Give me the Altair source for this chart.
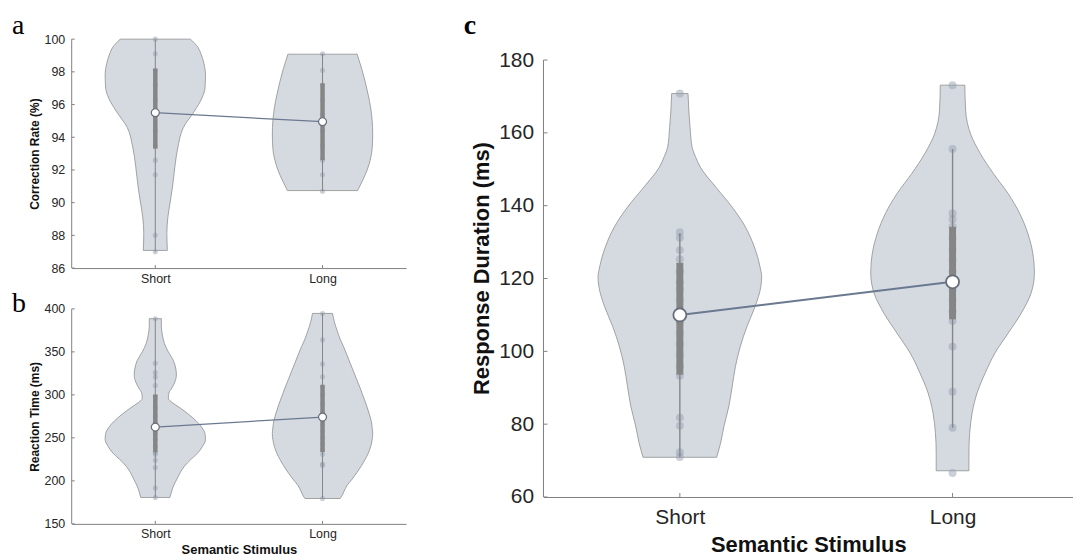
import altair as alt
import pandas as pd

# ---------------- data ----------------
CATS = ["Short", "Long"]
CAT_POS = [1, 2]
LETTERS = ["a", "b", "c"]

# Panel a : Correction Rate (%)
A_TICKS = [86, 88, 90, 92, 94, 96, 98, 100]
A_SHORT_Y = [87.08, 88.1, 89.1, 90.1, 90.9, 92.2, 93.4, 94.6, 95.6, 96.4, 97.0, 97.8, 98.5, 99.1, 99.5, 100.0]
A_SHORT_W = [0.24, 0.23, 0.25, 0.30, 0.34, 0.39, 0.45, 0.56, 0.78, 0.93, 0.99, 1.00, 0.97, 0.91, 0.85, 0.70]
A_LONG_Y = [90.74, 91.3, 92.0, 92.6, 93.3, 94.2, 95.0, 95.8, 96.6, 97.4, 98.2, 99.08]
A_LONG_W = [0.70, 0.79, 0.89, 0.95, 0.99, 1.00, 0.99, 0.96, 0.91, 0.85, 0.78, 0.69]
A_SHORT_PTS = [100.0, 99.1, 98.1, 97.2, 96.3, 95.4, 94.4, 93.5, 92.6, 91.7, 88.0, 87.0]
A_LONG_PTS = [99.1, 98.1, 97.2, 96.3, 95.4, 94.4, 93.5, 92.6, 91.7, 90.7]
A_Q1 = [93.3, 92.6]
A_Q3 = [98.2, 97.3]
A_MED = [95.5, 94.95]
A_LO = [87.0, 90.7]
A_HI = [100.0, 99.1]

# Panel b : Reaction Time (ms)
B_TICKS = [150, 200, 250, 300, 350, 400]
B_SHORT_Y = [180.7, 187, 195, 202, 210, 217, 225, 232, 240, 248, 255, 262, 270, 278, 285,
             291, 296, 302, 308, 315, 323, 330, 340, 350, 360, 370, 380, 388.6]
B_SHORT_W = [0.29, 0.32, 0.37, 0.43, 0.50, 0.58, 0.71, 0.84, 0.94, 1.00, 0.99, 0.93, 0.81, 0.65, 0.49,
             0.34, 0.26, 0.27, 0.33, 0.39, 0.42, 0.41, 0.36, 0.26, 0.18, 0.14, 0.12, 0.12]
B_LONG_Y = [179.5, 183, 188, 194.7, 202, 210, 218, 225, 232, 240, 248, 255, 262, 270, 280,
            289, 300, 308, 318, 327, 337, 346, 356, 365, 375, 384, 394.7]
B_LONG_W = [0.35, 0.39, 0.43, 0.49, 0.59, 0.69, 0.78, 0.85, 0.91, 0.96, 0.99, 1.00, 0.99, 0.97, 0.92,
            0.87, 0.80, 0.75, 0.68, 0.62, 0.55, 0.49, 0.42, 0.35, 0.29, 0.24, 0.20]
B_SHORT_PTS = [388.6, 336.7, 326, 320.8, 311, 298, 285, 275, 268, 262, 255, 248, 240, 233,
               231, 224, 215.5, 191.7, 180.7]
B_LONG_PTS = [394.7, 364, 336, 321, 310, 300, 290, 280, 272, 265, 258, 250, 243, 236, 231,
              219.6, 218, 179.5]
B_Q1 = [233.3, 233.6]
B_Q3 = [300.4, 311.4]
B_MED = [262.5, 274.2]
B_LO = [180.7, 179.5]
B_HI = [388.6, 394.7]

# Panel c : Response Duration (ms)
C_TICKS = [60, 80, 100, 120, 140, 160, 180]
C_SHORT_Y = [70.9, 75.0, 79.5, 85.0, 90.4, 95.9, 101.4, 106.8, 112.3, 117.8, 120.5, 123.2, 128.7,
             134.2, 139.6, 145.1, 150.6, 153.5, 156.0, 161.5, 166.0, 170.8]
C_SHORT_W = [0.45, 0.50, 0.54, 0.60, 0.64, 0.68, 0.74, 0.82, 0.92, 0.99, 1.00, 0.98, 0.91,
             0.80, 0.64, 0.44, 0.25, 0.19, 0.15, 0.125, 0.11, 0.10]
C_LONG_Y = [67.2, 72.2, 77.7, 83.2, 88.6, 94.1, 99.6, 105.0, 110.5, 116.0, 121.5, 127.0, 132.4,
            137.9, 143.3, 148.8, 154.3, 159.7, 166.1, 173.1]
C_LONG_W = [0.20, 0.20, 0.21, 0.24, 0.30, 0.40, 0.52, 0.68, 0.84, 0.96, 1.00, 0.98, 0.92,
            0.82, 0.68, 0.50, 0.34, 0.22, 0.16, 0.15]
C_SHORT_PTS = [170.8, 132.7, 131.2, 127.8, 125.3, 122, 119, 117, 114, 111, 108, 105, 102, 99, 96,
               93.3, 81.8, 79.6, 72.3, 71.0]
C_LONG_PTS = [173.1, 155.6, 137.9, 136.3, 134.2, 131, 128, 125, 122, 120, 117, 114, 111, 108.3,
              101.3, 88.9, 79.0, 66.6]
C_Q1 = [93.6, 108.8]
C_Q3 = [124.3, 134.2]
C_MED = [110.0, 119.1]
C_LO = [70.9, 79.0]
C_HI = [132.4, 155.6]

VIOLIN_HALF_WIDTH = 0.3

# ---------------- styles ----------------
FILL = "#d5dae1"
EDGE = "#8f8f8f"
AXIS = "#808080"
TEXT = "#262626"
PT = "#98a1b1"
BOXC = "#858585"
LINEC = "#6a7990"
SANS = "Liberation Sans"
SERIF = "Liberation Serif"


def panel(letter, lx, ly, lweight, lsize, sy, sw, ly_, lw_, spts, lpts, q1, q3, med, lo, hi,
          ticks, ytop, xmax, W, H, ytitle, xtitle, s):
    prof = pd.DataFrame(
        [{"pos": CAT_POS[0], "y": y, "w": w} for y, w in zip(sy, sw)]
        + [{"pos": CAT_POS[1], "y": y, "w": w} for y, w in zip(ly_, lw_)]
    )
    pts = pd.DataFrame(
        [{"pos": CAT_POS[0], "y": v} for v in spts] + [{"pos": CAT_POS[1], "y": v} for v in lpts]
    )
    bx = pd.DataFrame({"pos": CAT_POS, "q1": q1, "q3": q3, "med": med, "lo": lo, "hi": hi})

    xs = alt.Scale(domain=[0.5, xmax], nice=False, zero=False)
    ys = alt.Scale(domain=[ticks[0], ytop], nice=False, zero=False)

    xaxis = alt.Axis(
        values=CAT_POS,
        labelExpr=f"datum.value == {CAT_POS[0]} ? '{CATS[0]}' : '{CATS[1]}'",
        title=xtitle,
        ticks=False, tickSize=0, grid=False,
        domainColor=AXIS, domainWidth=1,
        labelFont=SANS, labelFontSize=s["lab"], labelColor=TEXT, labelPadding=s["xlp"],
        labelAngle=0,
        titleFont=SANS, titleFontSize=s["xt"], titleFontWeight="bold", titleColor="#111111",
        titlePadding=s["xtp"],
    )
    yaxis = alt.Axis(
        values=ticks, title=ytitle,
        ticks=False, tickSize=0, grid=False, domain=False,
        labelFont=SANS, labelFontSize=s["lab"], labelColor=TEXT, labelPadding=s["ylp"],
        titleFont=SANS, titleFontSize=s["yt"], titleFontWeight="bold", titleColor="#111111",
        titlePadding=s["ytp"],
    )

    def X(f):
        return alt.X(f, scale=xs, axis=xaxis)

    def Y(f):
        return alt.Y(f, scale=ys, axis=yaxis)

    violin = (
        alt.Chart(prof)
        .transform_calculate(
            left=f"datum.pos - {VIOLIN_HALF_WIDTH} * datum.w",
            right=f"datum.pos + {VIOLIN_HALF_WIDTH} * datum.w",
        )
        .mark_area(orient="horizontal", interpolate="monotone", fill=FILL, stroke=EDGE,
                   strokeWidth=0.8, fillOpacity=1)
        .encode(y=Y("y:Q"), x=X("left:Q"), x2="right:Q", detail="pos:N")
    )
    dots = (
        alt.Chart(pts)
        .mark_circle(size=s["pt"], color=PT, opacity=0.5)
        .encode(x=X("pos:Q"), y=Y("y:Q"))
    )
    whisk = (
        alt.Chart(bx)
        .mark_rule(color=BOXC, strokeWidth=s["wh"])
        .encode(x=X("pos:Q"), y=Y("lo:Q"), y2="hi:Q")
    )
    box = (
        alt.Chart(bx)
        .mark_rule(color=BOXC, strokeWidth=s["box"])
        .encode(x=X("pos:Q"), y=Y("q1:Q"), y2="q3:Q")
    )
    link = (
        alt.Chart(bx)
        .mark_line(color=LINEC, strokeWidth=s["ln"])
        .encode(x=X("pos:Q"), y=Y("med:Q"))
    )
    meds = (
        alt.Chart(bx)
        .mark_point(filled=True, fill="white", stroke="#676d78", strokeWidth=s["ms"],
                    size=s["med"], opacity=1, shape="circle")
        .encode(x=X("pos:Q"), y=Y("med:Q"))
    )
    # y axis line, from first to last tick value
    yline = (
        alt.Chart(pd.DataFrame({"a": [ticks[0]], "b": [ticks[-1]]}))
        .mark_rule(color=AXIS, strokeWidth=1)
        .encode(y=Y("a:Q"), y2="b:Q", x=alt.value(0))
    )
    yt = (
        alt.Chart(pd.DataFrame({"v": ticks}))
        .mark_rule(color=AXIS, strokeWidth=1)
        .encode(y=Y("v:Q"), x=alt.value(0), x2=alt.value(s["tk"]))
    )
    xt = (
        alt.Chart(pd.DataFrame({"v": CAT_POS}))
        .mark_rule(color=AXIS, strokeWidth=1)
        .encode(x=X("v:Q"), y=alt.value(H), y2=alt.value(H - s["tk"]))
    )
    lab = (
        alt.Chart(pd.DataFrame({"t": [letter]}))
        .mark_text(font=SERIF, fontSize=lsize, fontWeight=lweight, align="left",
                   baseline="alphabetic", color="#000000")
        .encode(text="t:N", x=alt.value(lx), y=alt.value(ly))
    )
    return alt.layer(violin, dots, whisk, box, link, meds, yline, yt, xt, lab).properties(
        width=W, height=H)


SMALL = {"lab": 12.5, "xt": 13, "yt": 12, "xlp": 4, "ylp": 7, "xtp": 3, "ytp": 3,
         "pt": 26, "wh": 1, "box": 4.5, "ln": 1.3, "ms": 1.2, "med": 64, "tk": 3}
BIG = {"lab": 21, "xt": 22, "yt": 22, "xlp": 10, "ylp": 10, "xtp": 7, "ytp": 5,
       "pt": 64, "wh": 1.4, "box": 7, "ln": 2, "ms": 1.8, "med": 170, "tk": 4}

# panel c plot area starts 21 px above its 180 tick so that its top lines up with panel a
C_PX_PER_UNIT = 439 / 120
C_TOP = 180 + 21 / C_PX_PER_UNIT
C_W = 532

pa = panel(LETTERS[0], -60, -5, "normal", 28, A_SHORT_Y, A_SHORT_W, A_LONG_Y, A_LONG_W,
           A_SHORT_PTS, A_LONG_PTS, A_Q1, A_Q3, A_MED, A_LO, A_HI,
           A_TICKS, A_TICKS[-1], 2.5, 336, 230, "Correction Rate (%)", None, SMALL)
pb = panel(LETTERS[1], -60, 3, "normal", 28, B_SHORT_Y, B_SHORT_W, B_LONG_Y, B_LONG_W,
           B_SHORT_PTS, B_LONG_PTS, B_Q1, B_Q3, B_MED, B_LO, B_HI,
           B_TICKS, B_TICKS[-1], 2.5, 336, 216, "Reaction Time (ms)", "Semantic Stimulus", SMALL)
pc = panel(LETTERS[2], -80, -5, "bold", 28, C_SHORT_Y, C_SHORT_W, C_LONG_Y, C_LONG_W,
           C_SHORT_PTS, C_LONG_PTS, C_Q1, C_Q3, C_MED, C_LO, C_HI,
           C_TICKS, C_TOP, 0.5 + C_W / 274, C_W, 460, "Response Duration (ms)",
           "Semantic Stimulus", BIG)

left = alt.vconcat(pa, pb, spacing=5)
chart = (
    alt.hconcat(left, pc, spacing=58)
    .properties(padding={"left": 4, "top": 3, "right": 0, "bottom": 0}, background="white")
    .configure_view(strokeWidth=0)
)

chart.save("out.html", embed_options={"renderer": "svg", "actions": False})
